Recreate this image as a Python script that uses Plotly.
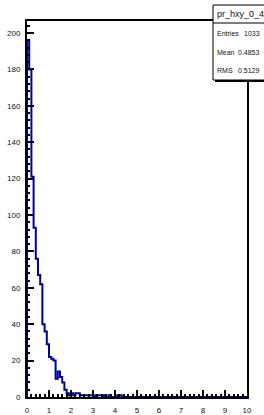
import plotly.graph_objects as go

# Histogram pr_hxy_0_4: 100 bins from 0 to 10
bin_lo = 0.0
bin_hi = 10.0
counts = [196, 180, 121, 93, 76, 67, 62, 40, 36, 29,
          22, 21, 20, 10, 14, 11, 8, 4, 2, 1,
          2, 1, 2, 2, 1, 1, 1, 1, 1, 1,
          0, 1, 1, 1, 1, 0, 0, 1, 0, 0,
          0, 1, 1, 0, 0, 0, 0, 0, 0, 0] + [0] * 50

stats_title = "pr_hxy_0_4"
stats_names = ["Entries", "Mean", "RMS"]
stats_values = ["1033", "0.4853", "0.5129"]

y_ticks = list(range(0, 201, 20))
x_ticks = list(range(0, 11))

nb = len(counts)
w = (bin_hi - bin_lo) / nb
edges = [bin_lo + i * w for i in range(nb + 1)]
xs = [edges[0]] + edges
ys = [0] + counts + [0]

W, H = 264, 415
L, R, T, B = 27, 247, 21, 397
ymax = 206.6


def px(p):
    return (p - L) / (R - L)


def py(p):
    return (B - p) / (B - T)


fig = go.Figure()
fig.add_trace(go.Scatter(x=xs, y=ys, mode="lines", line_shape="hv",
                         line=dict(color="#000099", width=2),
                         hoverinfo="skip", showlegend=False))

font = dict(family="Liberation Sans, Arial, sans-serif", color="#111111")

fig.update_layout(
    width=W, height=H,
    margin=dict(l=L, r=W - R, t=T, b=H - B, pad=0, autoexpand=False),
    paper_bgcolor="white", plot_bgcolor="white",
    showlegend=False,
    xaxis=dict(range=[bin_lo, bin_hi], tickvals=x_ticks, ticktext=[str(v) for v in x_ticks],
               ticks="inside", ticklen=7, tickwidth=2, tickcolor="black",
               minor=dict(dtick=0.2, ticks="inside", ticklen=3, tickwidth=2, tickcolor="black"),
               showline=True, linecolor="black", linewidth=2, mirror=True,
               ticklabelstandoff=4, automargin=False,
               showgrid=False, zeroline=False, tickfont=dict(size=8, **font)),
    yaxis=dict(range=[0, ymax], tickvals=y_ticks, ticktext=[str(v) for v in y_ticks],
               ticks="inside", ticklen=7, tickwidth=2, tickcolor="black",
               minor=dict(dtick=4, ticks="inside", ticklen=3, tickwidth=2, tickcolor="black"),
               showline=True, linecolor="black", linewidth=2, mirror=True,
               ticklabelstandoff=3, automargin=False,
               showgrid=False, zeroline=False, tickfont=dict(size=8, **font)),
)

# stats box (with shadow)
bx0, bx1, by0, by1 = 213, 268, 5, 80
fig.add_shape(type="rect", xref="paper", yref="paper",
              x0=px(bx0 + 2), x1=px(bx1 + 2), y0=py(by1 + 2), y1=py(by0 + 2),
              fillcolor="black", line=dict(width=0), layer="above")
fig.add_shape(type="rect", xref="paper", yref="paper",
              x0=px(bx0), x1=px(bx1), y0=py(by1), y1=py(by0),
              fillcolor="white", line=dict(color="black", width=1), layer="above")
fig.add_shape(type="line", xref="paper", yref="paper",
              x0=px(bx0), x1=px(bx1), y0=py(23), y1=py(23),
              line=dict(color="black", width=1), layer="above")

fig.add_annotation(xref="paper", yref="paper", x=px(215), y=py(14),
                   text=stats_title, showarrow=False, xanchor="left", yanchor="middle",
                   font=dict(size=9, **font))
row_y = [33, 52, 70]
for name, val, yy in zip(stats_names, stats_values, row_y):
    fig.add_annotation(xref="paper", yref="paper", x=px(215), y=py(yy),
                       text=name, showarrow=False, xanchor="left", yanchor="middle",
                       font=dict(size=7, **font))
    fig.add_annotation(xref="paper", yref="paper", x=px(262), y=py(yy),
                       text=val, showarrow=False, xanchor="right", yanchor="middle",
                       font=dict(size=7, **font))

fig.write_html("out.html", config={"displayModeBar": False},
               post_script="document.body.style.margin='0';document.body.style.overflow='hidden';")
